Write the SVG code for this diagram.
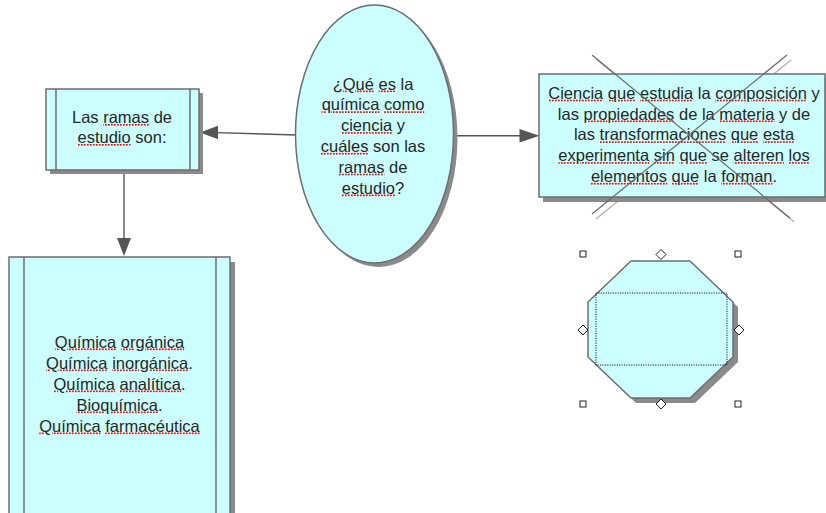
<svg xmlns="http://www.w3.org/2000/svg" width="826" height="513" viewBox="0 0 826 513">
<defs>
<pattern id="dots" patternUnits="userSpaceOnUse" x="0" y="0" width="3" height="4">
  <rect x="0" y="0" width="1.7" height="4" fill="#ff0000"/>
</pattern>
</defs>
<style>
.shape{fill:#ccffff;stroke:#6e6e6e;stroke-width:1.5}
.shadow{fill:#8a8a8a;stroke:none}
.inner{stroke:#6e6e6e;stroke-width:1.5;fill:none}
.t{font-family:"Liberation Sans",Arial,sans-serif;font-size:16.5px;fill:#262626;text-anchor:middle}
.sp{fill:url(#dots);text-decoration:underline;text-decoration-thickness:2px;text-underline-offset:2px}
.w{fill:#262626}
.conn{stroke:#555;stroke-width:1.4;fill:none}
.head{fill:#555;stroke:none}
.x{stroke:#6a6a6a;stroke-width:1.2}
.xs{stroke:#b0b0b0;stroke-width:1.2}
.handle{fill:#fff;stroke:#222;stroke-width:1}
</style>
<rect width="826" height="513" fill="#fff"/>

<g id="connectors">
  <line class="conn" x1="297" y1="135" x2="216" y2="132.6"/>
  <polygon class="head" points="200,132.5 218,125.8 218,139.2"/>
  <line class="conn" x1="453" y1="135.7" x2="522" y2="135.7"/>
  <polygon class="head" points="539.5,135.7 519.5,129 519.5,142.4"/>
  <line class="conn" x1="124" y1="170" x2="124" y2="240"/>
  <polygon class="head" points="124,256 117,238 131,238"/>
</g>

<g id="node-ramas">
  <rect class="shadow" x="50" y="93" width="153" height="81"/>
  <rect class="shape" x="46" y="89" width="153" height="81"/>
  <line class="inner" x1="56" y1="89" x2="56" y2="170"/>
  <line class="inner" x1="190" y1="89" x2="190" y2="170"/>
  <text class="t" x="122" y="123">Las <tspan class="sp"><tspan class="w">ramas</tspan></tspan> de</text>
  <text class="t" x="122" y="143"><tspan class="sp"><tspan class="w">estudio</tspan></tspan> son:</text>
</g>

<g id="node-pregunta">
  <ellipse class="shadow" cx="378.5" cy="138" rx="79" ry="129"/>
  <ellipse class="shape" cx="374.5" cy="134" rx="79" ry="129"/>
  <text class="t" x="373" y="89.5">¿<tspan class="sp"><tspan class="w">Qué</tspan></tspan> <tspan class="sp"><tspan class="w">es</tspan></tspan> la</text>
  <text class="t" x="373" y="110.3"><tspan class="sp"><tspan class="w">química</tspan></tspan> <tspan class="sp"><tspan class="w">como</tspan></tspan></text>
  <text class="t" x="373" y="131.1"><tspan class="sp"><tspan class="w">ciencia</tspan></tspan> y</text>
  <text class="t" x="373" y="151.9"><tspan class="sp"><tspan class="w">cuáles</tspan></tspan> son las</text>
  <text class="t" x="373" y="172.7"><tspan class="sp"><tspan class="w">ramas</tspan></tspan> de</text>
  <text class="t" x="373" y="193.5"><tspan class="sp"><tspan class="w">estudio</tspan></tspan>?</text>
</g>

<g id="node-definicion">
  <line class="xs" x1="791" y1="60" x2="596" y2="219"/>
  <line class="xs" x1="596" y1="59" x2="794" y2="222"/>
  <rect class="shadow" x="543" y="78" width="290" height="124"/>
  <rect class="shape" x="539" y="74" width="286" height="123"/>
  <text class="t" x="684" y="98.7"><tspan class="sp"><tspan class="w">Ciencia</tspan></tspan> <tspan class="sp"><tspan class="w">que</tspan></tspan> <tspan class="sp"><tspan class="w">estudia</tspan></tspan> la <tspan class="sp"><tspan class="w">composición</tspan></tspan> y</text>
  <text class="t" x="684" y="119.5">las <tspan class="sp"><tspan class="w">propiedades</tspan></tspan> de la <tspan class="sp"><tspan class="w">materia</tspan></tspan> y de</text>
  <text class="t" x="684" y="140.3">las <tspan class="sp"><tspan class="w">transformaciones</tspan></tspan> <tspan class="sp"><tspan class="w">que</tspan></tspan> <tspan class="sp"><tspan class="w">esta</tspan></tspan></text>
  <text class="t" x="684" y="161.1"><tspan class="sp"><tspan class="w">experimenta</tspan></tspan> <tspan class="sp"><tspan class="w">sin</tspan></tspan> <tspan class="sp"><tspan class="w">que</tspan></tspan> se <tspan class="sp"><tspan class="w">alteren</tspan></tspan> <tspan class="sp"><tspan class="w">los</tspan></tspan></text>
  <text class="t" x="684" y="181.9"><tspan class="sp"><tspan class="w">elementos</tspan></tspan> <tspan class="sp"><tspan class="w">que</tspan></tspan> la <tspan class="sp"><tspan class="w">forman</tspan></tspan>.</text>
  <line class="x" x1="592" y1="55" x2="790" y2="218"/>
  <line class="x" x1="787" y1="55" x2="592" y2="214"/>
</g>

<g id="node-octagono">
  <polygon class="shadow" points="636,266 695,266 738,307 738,362 695,403 636,403 593,362 593,307"/>
  <polygon class="shape" points="631,261 690,261 733,302 733,357 690,398 631,398 588,357 588,302"/>
  <rect x="596" y="293" width="131" height="72" fill="none" stroke="#222" stroke-width="1" stroke-dasharray="1.2,1.2"/>
  <rect class="handle" x="580" y="251" width="6" height="6"/>
  <rect class="handle" x="735" y="251" width="6" height="6"/>
  <rect class="handle" x="580" y="401" width="6" height="6"/>
  <rect class="handle" x="735" y="401" width="6" height="6"/>
  <polygon class="handle" points="661,249.5 666,254.5 661,259.5 656,254.5"/>
  <polygon class="handle" points="583,325 588,330 583,335 578,330"/>
  <polygon class="handle" points="739,325 744,330 739,335 734,330"/>
  <polygon class="handle" points="661,399 666,404 661,409 656,404"/>
</g>

<g id="node-ramas-lista">
  <rect class="shadow" x="14" y="262" width="221" height="260"/>
  <rect class="shape" x="9" y="257" width="221" height="265"/>
  <line class="inner" x1="24" y1="257" x2="24" y2="522"/>
  <line class="inner" x1="216" y1="257" x2="216" y2="522"/>
  <text class="t" x="119.5" y="347.5"><tspan class="sp"><tspan class="w">Química</tspan></tspan> <tspan class="sp"><tspan class="w">orgánica</tspan></tspan></text>
  <text class="t" x="119.5" y="368.5"><tspan class="sp"><tspan class="w">Química</tspan></tspan> <tspan class="sp"><tspan class="w">inorgánica</tspan></tspan>.</text>
  <text class="t" x="119.5" y="389.5"><tspan class="sp"><tspan class="w">Química</tspan></tspan> <tspan class="sp"><tspan class="w">analítica</tspan></tspan>.</text>
  <text class="t" x="119.5" y="410.5"><tspan class="sp"><tspan class="w">Bioquímica</tspan></tspan>.</text>
  <text class="t" x="119.5" y="431.5"><tspan class="sp"><tspan class="w">Química</tspan></tspan> <tspan class="sp"><tspan class="w">farmacéutica</tspan></tspan></text>
</g>
</svg>
